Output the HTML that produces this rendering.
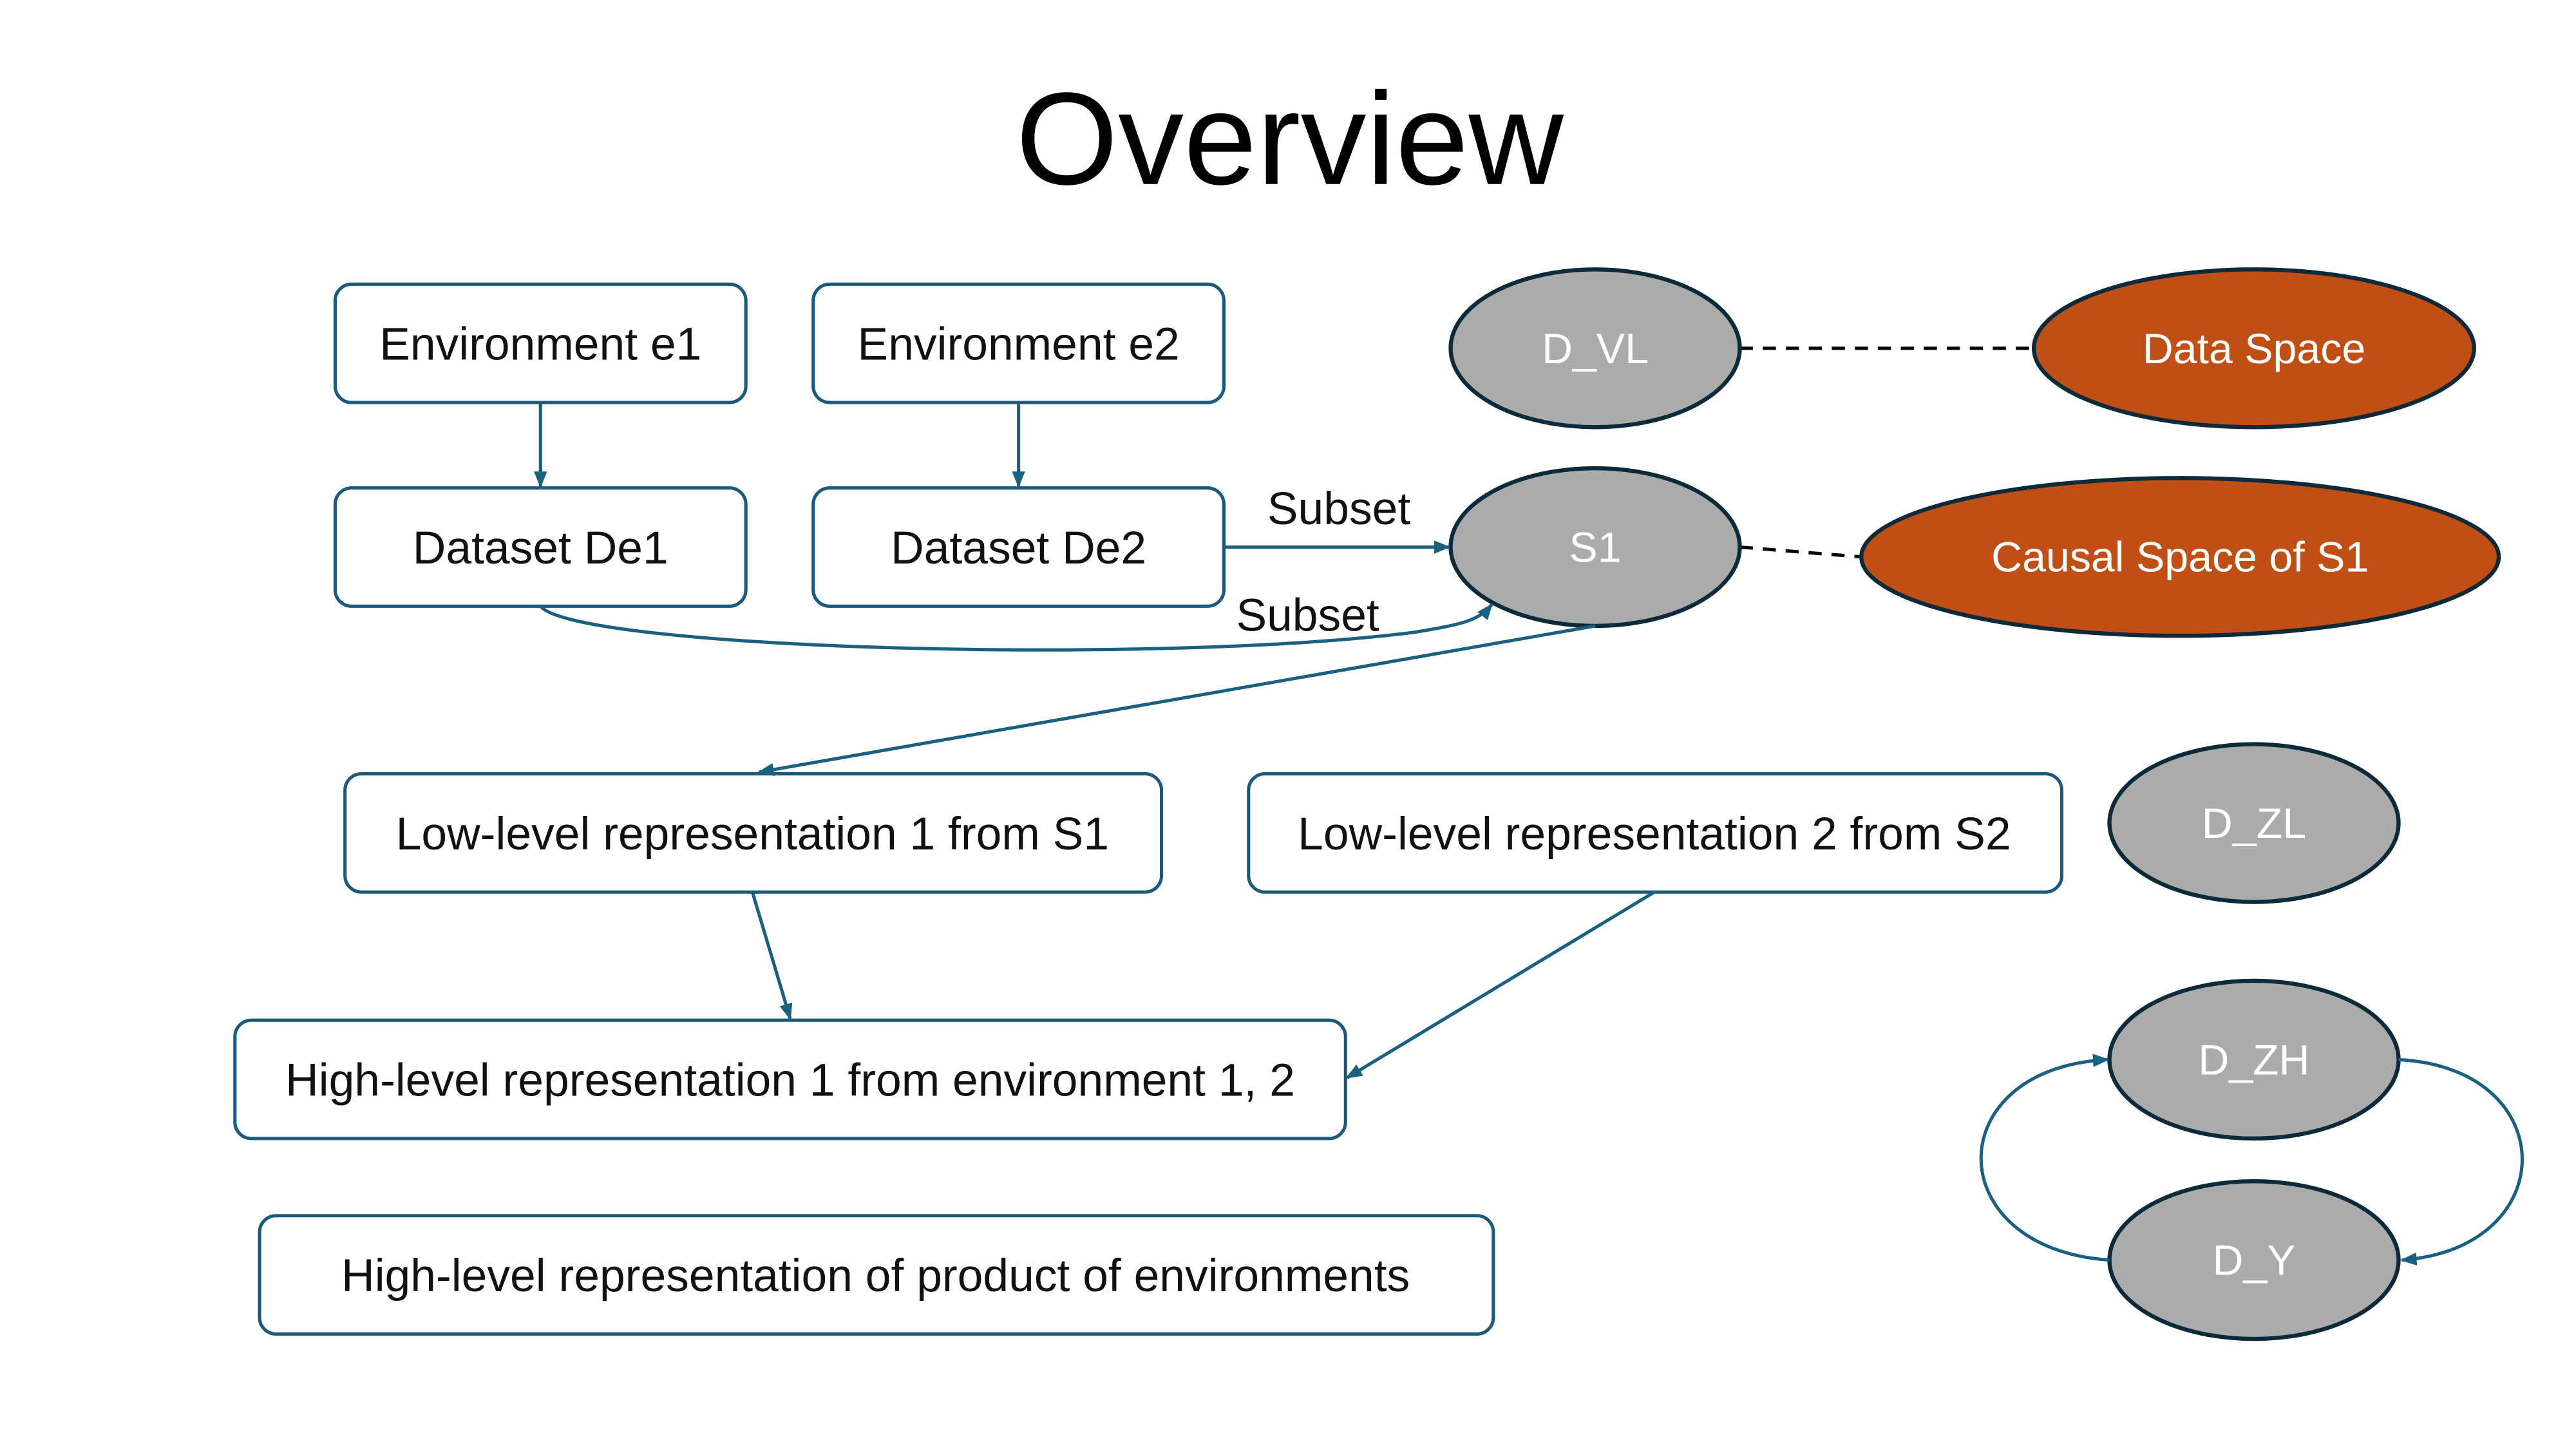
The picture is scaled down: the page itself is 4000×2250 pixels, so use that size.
<!DOCTYPE html>
<html><head><meta charset="utf-8"><style>
html,body{margin:0;padding:0;background:#fff;}
svg{display:block;}
text{font-family:"Liberation Sans",sans-serif;}
</style></head><body>
<svg width="4000" height="2250" viewBox="0 0 1568 882" preserveAspectRatio="none" xmlns="http://www.w3.org/2000/svg">
<defs>
<marker id="a" markerWidth="10" markerHeight="10" refX="9" refY="5" orient="auto" markerUnits="userSpaceOnUse">
<path d="M0,1 L10,5 L0,9 z" fill="#1a6080"/></marker>
</defs>
<rect width="1568" height="882" fill="#fff"/>
<text x="785" y="112" font-size="80" text-anchor="middle" fill="#000">Overview</text>

<g fill="#fff" stroke="#1a5a7a" stroke-width="2">
<rect x="204" y="173" width="250" height="72" rx="10"/>
<rect x="495" y="173" width="250" height="72" rx="10"/>
<rect x="204" y="297" width="250" height="72" rx="10"/>
<rect x="495" y="297" width="250" height="72" rx="10"/>
<rect x="210" y="471" width="497" height="72" rx="10"/>
<rect x="760" y="471" width="495" height="72" rx="10"/>
<rect x="143" y="621" width="676" height="72" rx="10"/>
<rect x="158" y="740" width="751" height="72" rx="10"/>
</g>
<g font-size="28" text-anchor="middle" fill="#111">
<text x="329" y="219">Environment e1</text>
<text x="620" y="219">Environment e2</text>
<text x="329" y="343">Dataset De1</text>
<text x="620" y="343">Dataset De2</text>
<text x="458" y="517">Low-level representation 1 from S1</text>
<text x="1007" y="517">Low-level representation 2 from S2</text>
<text x="481" y="667">High-level representation 1 from environment 1, 2</text>
<text x="533" y="786">High-level representation of product of environments</text>
<text x="815" y="319">Subset</text>
<text x="796" y="384">Subset</text>
</g>

<g stroke="#000" stroke-width="2" stroke-dasharray="8,6" fill="none">
<line x1="1059" y1="212" x2="1238" y2="212"/>
<line x1="1059" y1="333" x2="1133" y2="339"/>
</g>

<g stroke="#0d2a3a" stroke-width="2.5">
<ellipse cx="971" cy="212" rx="88" ry="48" fill="#ababab"/>
<ellipse cx="971" cy="333" rx="88" ry="48" fill="#ababab"/>
<ellipse cx="1372" cy="501" rx="88" ry="48" fill="#ababab"/>
<ellipse cx="1372" cy="645" rx="88" ry="48" fill="#ababab"/>
<ellipse cx="1372" cy="767" rx="88" ry="48" fill="#ababab"/>
<ellipse cx="1372" cy="212" rx="134" ry="48" fill="#c04f15"/>
<ellipse cx="1327" cy="339" rx="194" ry="48" fill="#c04f15"/>
</g>
<g font-size="26" text-anchor="middle" fill="#fff">
<text x="971" y="221">D_VL</text>
<text x="971" y="342">S1</text>
<text x="1372" y="510">D_ZL</text>
<text x="1372" y="654">D_ZH</text>
<text x="1372" y="776">D_Y</text>
<text x="1372" y="221">Data Space</text>
<text x="1327" y="348">Causal Space of S1</text>
</g>

<g stroke="#1a6080" stroke-width="2" fill="none" marker-end="url(#a)">
<line x1="329" y1="245" x2="329" y2="296"/>
<line x1="620" y1="245" x2="620" y2="296"/>
<line x1="745" y1="333" x2="882" y2="333"/>
<path d="M329,369 C350,395 700,405 860,385 C890,380 900,378 908,368"/>
<line x1="971" y1="381" x2="462" y2="470"/>
<line x1="458" y1="543" x2="481" y2="620"/>
<line x1="1007" y1="543" x2="820" y2="656"/>
<path d="M1284,767 C1180,760 1180,650 1283,645"/>
<path d="M1460,645 C1560,650 1560,760 1462,767"/>
</g>
</svg>
</body></html>
